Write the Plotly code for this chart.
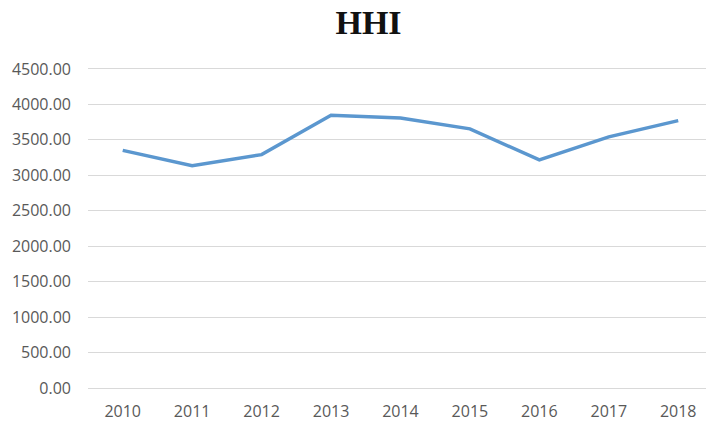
import plotly.graph_objects as go

years = ["2010", "2011", "2012", "2013", "2014", "2015", "2016", "2017", "2018"]
hhi = [3352, 3137, 3292, 3846, 3810, 3655, 3217, 3542, 3772]
y_ticks = [0, 500, 1000, 1500, 2000, 2500, 3000, 3500, 4000, 4500]

fig = go.Figure(
    go.Scatter(
        x=list(range(len(years))),
        y=hhi,
        mode="lines",
        line=dict(color="#5B97CF", width=3.5),
        hoverinfo="skip",
    )
)

fig.update_layout(
    width=706,
    height=422,
    margin=dict(l=88, r=0, t=67, b=34),
    paper_bgcolor="white",
    plot_bgcolor="white",
    showlegend=False,
    title=dict(
        text="<b>HHI</b>",
        x=0.522,
        xanchor="center",
        y=0.948,
        yanchor="middle",
        font=dict(family="Liberation Serif", size=34, color="#111111"),
    ),
    font=dict(family="Open Sans", size=16, color="#595959"),
)

fig.update_xaxes(
    tickmode="array",
    tickvals=list(range(len(years))),
    ticktext=years,
    range=[-0.5, 8.4],
    showgrid=False,
    zeroline=False,
    showline=False,
    ticks="",
    ticklabelstandoff=12,
    tickfont=dict(size=16, color="#595959"),
)

fig.update_yaxes(
    range=[0, 4528],
    tickmode="array",
    tickvals=y_ticks,
    ticktext=[f"{v:.2f}" for v in y_ticks],
    showgrid=True,
    gridcolor="#D9D9D9",
    gridwidth=1,
    zeroline=True,
    zerolinecolor="#D9D9D9",
    zerolinewidth=1,
    showline=False,
    ticks="",
    ticklabelstandoff=16,
    tickfont=dict(size=16, color="#595959"),
)

fig.write_html("out.html")
